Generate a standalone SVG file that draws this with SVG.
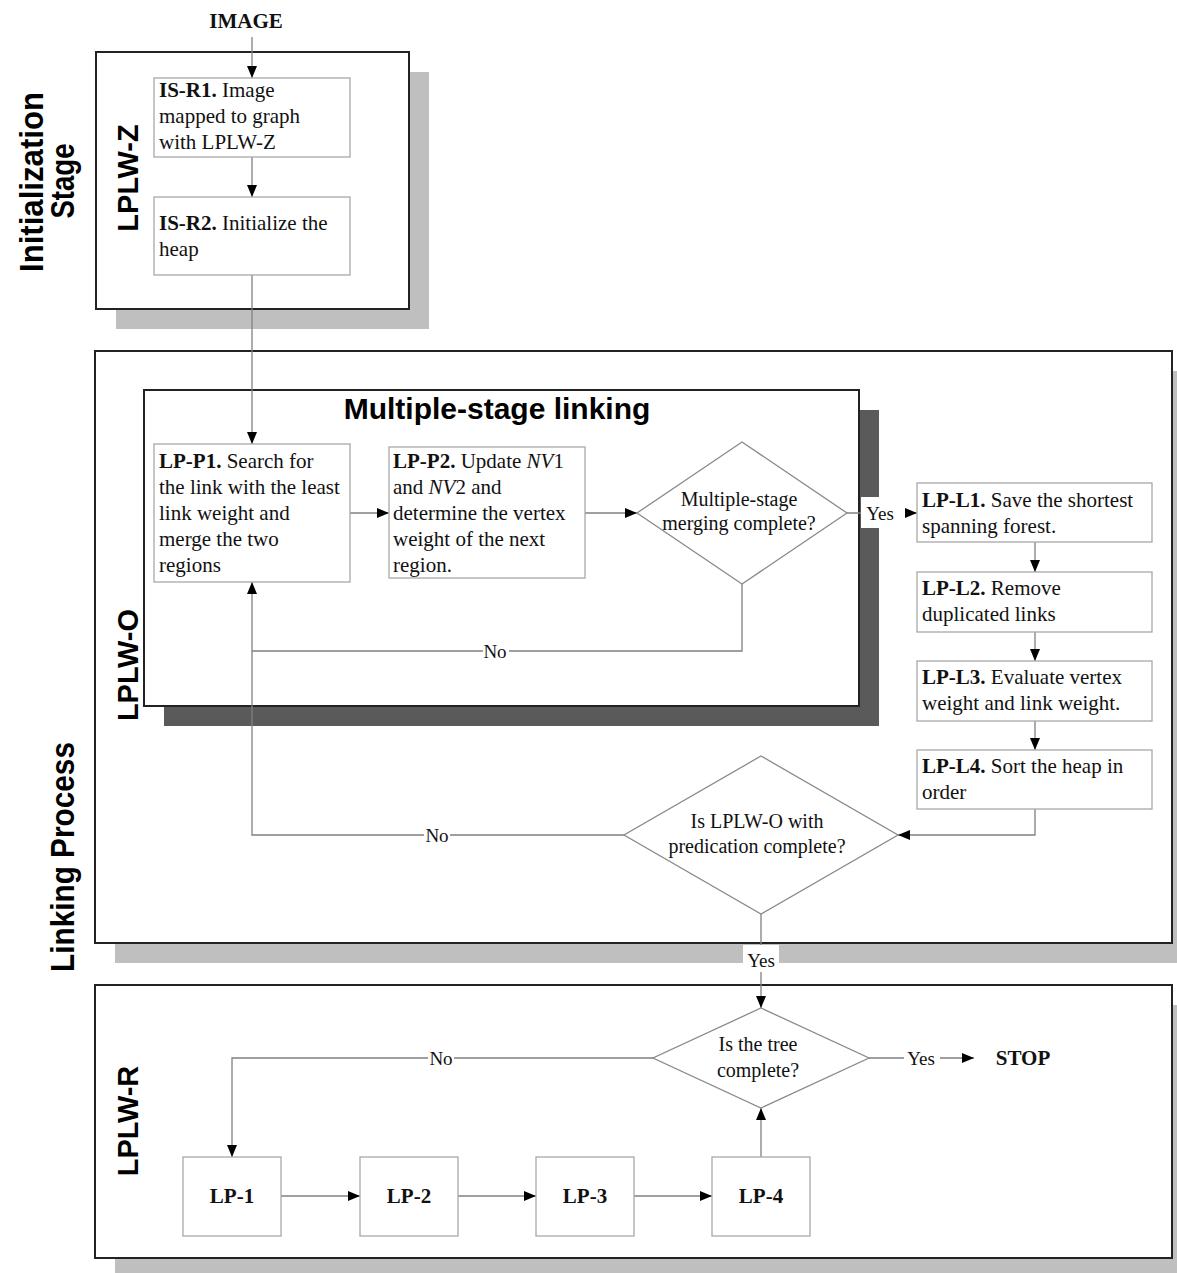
<svg xmlns="http://www.w3.org/2000/svg" width="1177" height="1273" viewBox="0 0 1177 1273">
  <style>
    .shadow-l { fill: #bfbfbf; }
    .shadow-d { fill: #5a5a5a; }
    .frame { fill: #ffffff; stroke: #222222; stroke-width: 2; }
    .box { fill: #ffffff; stroke: #a8a8a8; stroke-width: 1.3; }
    .dia { fill: #ffffff; stroke: #8a8a8a; stroke-width: 1.3; }
    .wire { fill: none; stroke: #808080; stroke-width: 1.3; }
    .txt { font-family: "Liberation Serif", "Times New Roman", serif; font-size: 21px; fill: #111111; }
    .dtxt { font-family: "Liberation Serif", "Times New Roman", serif; font-size: 20px; fill: #111111; text-anchor: middle; }
    .lbl { font-family: "Liberation Serif", "Times New Roman", serif; font-size: 19px; fill: #111111; text-anchor: middle; }
    .head { font-family: "Liberation Serif", "Times New Roman", serif; font-size: 21px; font-weight: bold; fill: #111111; text-anchor: middle; }
    .side { font-family: "Liberation Sans", Arial, sans-serif; font-size: 29px; font-weight: bold; fill: #000000; text-anchor: middle; }
    .stage { font-family: "Liberation Sans", Arial, sans-serif; font-size: 33px; font-weight: bold; fill: #000000; text-anchor: middle; }
    .title { font-family: "Liberation Sans", Arial, sans-serif; font-size: 30px; font-weight: bold; fill: #000000; text-anchor: middle; }
    .b { font-weight: bold; }
  </style>
  <defs>
    <marker id="arr" viewBox="0 0 12 10" refX="12" refY="5" markerWidth="12" markerHeight="10" orient="auto" markerUnits="userSpaceOnUse">
      <path d="M0,0 L12,5 L0,10 Z" fill="#000000"/>
    </marker>
  </defs>

  <rect width="1177" height="1273" fill="#ffffff"/>

  <!-- stage captions (narrow bold lettering) -->
  <g id="stage-labels">
    <text class="stage" transform="translate(43,182) rotate(-90)" textLength="180" lengthAdjust="spacingAndGlyphs">Initialization</text>
    <text class="stage" transform="translate(74,181) rotate(-90)" textLength="75" lengthAdjust="spacingAndGlyphs">Stage</text>
    <text class="stage" transform="translate(74,857) rotate(-90)" textLength="230" lengthAdjust="spacingAndGlyphs">Linking Process</text>
  </g>

  <!-- LPLW-Z frame -->
  <g id="frame-lplw-z">
    <rect class="shadow-l" x="116" y="72" width="313" height="257"/>
    <rect class="frame" x="96" y="52" width="313" height="257"/>
    <text class="side" transform="translate(138,178) rotate(-90)">LPLW-Z</text>
  </g>

  <!-- LPLW-O frame -->
  <g id="frame-lplw-o">
    <rect class="shadow-l" x="115" y="371" width="1077" height="592"/>
    <rect class="frame" x="95" y="351" width="1077" height="592"/>
    <text class="side" transform="translate(138,665) rotate(-90)">LPLW-O</text>
  </g>

  <!-- Multiple-stage linking frame -->
  <g id="frame-multistage">
    <rect class="shadow-d" x="164" y="410" width="715" height="316"/>
    <rect class="frame" x="144" y="390" width="715" height="316"/>
    <text class="title" x="497" y="419">Multiple-stage linking</text>
  </g>

  <!-- LPLW-R frame -->
  <g id="frame-lplw-r">
    <rect class="shadow-l" x="115" y="1005" width="1077" height="273"/>
    <rect class="frame" x="95" y="985" width="1077" height="273"/>
    <text class="side" transform="translate(138,1121) rotate(-90)">LPLW-R</text>
  </g>

  <!-- connectors -->
  <g id="connectors">
    <path class="wire" d="M252,37 V78" marker-end="url(#arr)"/>
    <path class="wire" d="M252,157 V197" marker-end="url(#arr)"/>
    <path class="wire" d="M252,275 V444" marker-end="url(#arr)"/>
    <path class="wire" d="M350,513 H389" marker-end="url(#arr)"/>
    <path class="wire" d="M585,513 H637" marker-end="url(#arr)"/>
    <path class="wire" d="M847,513 H917" marker-end="url(#arr)"/>
    <path class="wire" d="M1035,542 V572" marker-end="url(#arr)"/>
    <path class="wire" d="M1035,632 V661" marker-end="url(#arr)"/>
    <path class="wire" d="M1035,721 V750" marker-end="url(#arr)"/>
    <path class="wire" d="M1035,809 V835 H898" marker-end="url(#arr)"/>
    <path class="wire" d="M742,584 V651 H252"/>
    <path class="wire" d="M624,835 H252 V582" marker-end="url(#arr)"/>
    <path class="wire" d="M761,914 V1008" marker-end="url(#arr)"/>
    <path class="wire" d="M653,1058 H232 V1157" marker-end="url(#arr)"/>
    <path class="wire" d="M869,1058 H974" marker-end="url(#arr)"/>
    <path class="wire" d="M281,1196 H360" marker-end="url(#arr)"/>
    <path class="wire" d="M458,1196 H536" marker-end="url(#arr)"/>
    <path class="wire" d="M634,1196 H712" marker-end="url(#arr)"/>
    <path class="wire" d="M761,1157 V1108" marker-end="url(#arr)"/>

    <!-- branch labels -->
    <rect x="861" y="497" width="36" height="31" fill="#ffffff"/>
    <text class="lbl" x="880" y="520">Yes</text>
    <rect x="897" y="510" width="8" height="6" fill="#ffffff"/>
    <rect x="483" y="640" width="26" height="22" fill="#ffffff"/>
    <text class="lbl" x="495" y="658">No</text>
    <rect x="424" y="824" width="26" height="22" fill="#ffffff"/>
    <text class="lbl" x="437" y="842">No</text>
    <rect x="743" y="945" width="36" height="27" fill="#ffffff"/>
    <text class="lbl" x="761" y="967">Yes</text>
    <rect x="428" y="1047" width="26" height="22" fill="#ffffff"/>
    <text class="lbl" x="441" y="1065">No</text>
    <rect x="904" y="1047" width="36" height="22" fill="#ffffff"/>
    <text class="lbl" x="921" y="1065">Yes</text>
  </g>

  <!-- terminals -->
  <g id="image">
    <text class="head" x="246" y="28">IMAGE</text>
  </g>
  <g id="stop">
    <text class="head" x="1023" y="1065">STOP</text>
  </g>

  <!-- initialization steps -->
  <g id="is-r1">
    <rect class="box" x="154" y="78" width="196" height="79"/>
    <text class="txt" x="159" y="97"><tspan class="b">IS-R1.</tspan> Image</text>
    <text class="txt" x="159" y="123">mapped to graph</text>
    <text class="txt" x="159" y="149">with LPLW-Z</text>
  </g>
  <g id="is-r2">
    <rect class="box" x="154" y="197" width="196" height="78"/>
    <text class="txt" x="159" y="230"><tspan class="b">IS-R2.</tspan> Initialize the</text>
    <text class="txt" x="159" y="256">heap</text>
  </g>

  <!-- multiple-stage linking steps -->
  <g id="lp-p1">
    <rect class="box" x="154" y="444" width="196" height="138"/>
    <text class="txt" x="159" y="468"><tspan class="b">LP-P1.</tspan> Search for</text>
    <text class="txt" x="159" y="494">the link with the least</text>
    <text class="txt" x="159" y="520">link weight and</text>
    <text class="txt" x="159" y="546">merge the two</text>
    <text class="txt" x="159" y="572">regions</text>
  </g>
  <g id="lp-p2">
    <rect class="box" x="389" y="447" width="196" height="131"/>
    <text class="txt" x="393" y="468"><tspan class="b">LP-P2.</tspan> Update <tspan font-style="italic">NV</tspan>1</text>
    <text class="txt" x="393" y="494">and <tspan font-style="italic">NV</tspan>2 and</text>
    <text class="txt" x="393" y="520">determine the vertex</text>
    <text class="txt" x="393" y="546">weight of the next</text>
    <text class="txt" x="393" y="572">region.</text>
  </g>
  <g id="merge-complete">
    <polygon class="dia" points="742,442 847,513 742,584 637,513"/>
    <text class="dtxt" x="739" y="506">Multiple-stage</text>
    <text class="dtxt" x="739" y="530">merging complete?</text>
  </g>

  <!-- linking steps -->
  <g id="lp-l1">
    <rect class="box" x="917" y="483" width="235" height="59"/>
    <text class="txt" x="922" y="507"><tspan class="b">LP-L1.</tspan> Save the shortest</text>
    <text class="txt" x="922" y="533">spanning forest.</text>
  </g>
  <g id="lp-l2">
    <rect class="box" x="917" y="572" width="235" height="60"/>
    <text class="txt" x="922" y="595"><tspan class="b">LP-L2.</tspan> Remove</text>
    <text class="txt" x="922" y="621">duplicated links</text>
  </g>
  <g id="lp-l3">
    <rect class="box" x="917" y="661" width="235" height="60"/>
    <text class="txt" x="922" y="684"><tspan class="b">LP-L3.</tspan> Evaluate vertex</text>
    <text class="txt" x="922" y="710">weight and link weight.</text>
  </g>
  <g id="lp-l4">
    <rect class="box" x="917" y="750" width="235" height="59"/>
    <text class="txt" x="922" y="773"><tspan class="b">LP-L4.</tspan> Sort the heap in</text>
    <text class="txt" x="922" y="799">order</text>
  </g>
  <g id="predication-complete">
    <polygon class="dia" points="761,756 898,835 761,914 624,835"/>
    <text class="dtxt" x="757" y="828">Is LPLW-O with</text>
    <text class="dtxt" x="757" y="853">predication complete?</text>
  </g>

  <!-- LPLW-R steps -->
  <g id="tree-complete">
    <polygon class="dia" points="761,1008 869,1058 761,1108 653,1058"/>
    <text class="dtxt" x="758" y="1051">Is the tree</text>
    <text class="dtxt" x="758" y="1077">complete?</text>
  </g>
  <g id="lp-1">
    <rect class="box" x="183" y="1157" width="98" height="79"/>
    <text class="head" x="232" y="1203">LP-1</text>
  </g>
  <g id="lp-2">
    <rect class="box" x="360" y="1157" width="98" height="79"/>
    <text class="head" x="409" y="1203">LP-2</text>
  </g>
  <g id="lp-3">
    <rect class="box" x="536" y="1157" width="98" height="79"/>
    <text class="head" x="585" y="1203">LP-3</text>
  </g>
  <g id="lp-4">
    <rect class="box" x="712" y="1157" width="98" height="79"/>
    <text class="head" x="761" y="1203">LP-4</text>
  </g>
</svg>
